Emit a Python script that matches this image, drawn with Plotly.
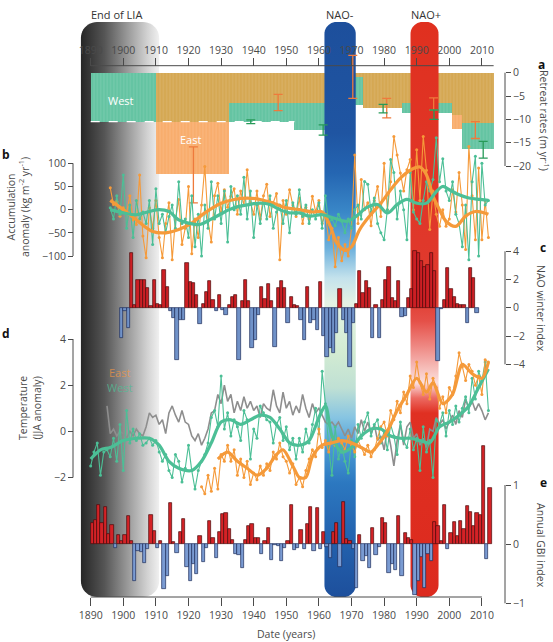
import numpy as np
import plotly.graph_objects as go

W, H = 553, 642

# ------------------------------------------------------------------ data
# Panel a: glacier retreat rates (m per year) by survey period
east_start = [1910.0, 1932.5, 1966.8, 1973.6, 1985.5, 2000.7, 2003.9]
east_end   = [1932.5, 1966.8, 1973.6, 1985.5, 2000.7, 2003.9, 2013.6]
east_rate  = [-21.8, -6.4, -0.9, -7.6, -6.6, -12.1, -10.8]
west_start = [1890.0, 1952.5, 1966.8, 1973.6, 1985.5, 2000.7, 2003.9]
west_end   = [1952.5, 1966.8, 1973.6, 1985.5, 2000.7, 2003.9, 2013.6]
west_rate  = [-10.5, -12.3, -7.0, -7.6, -8.7, -9.1, -16.4]
east_err_year = [1921.5, 1947.5, 1970.4, 1980.8, 1995.2, 2008.0]
east_err_val  = [-21.9, -6.4, -0.9, -7.6, -6.7, -12.3]
east_err      = [6.0, 1.75, 4.6, 2.1, 1.3, 1.8]
west_err_year = [1939.1, 1961.3, 1979.7, 1995.3, 2010.4]
west_err_val  = [-10.5, -12.3, -7.7, -9.0, -16.5]
west_err      = [0.4, 1.1, 0.9, 1.0, 1.8]
west_dash_years = [1890.0, 1952.5]
west_dash_val = -10.5

# Panel b: accumulation anomaly (kg m-2 yr-1), 1896-2012
acc_start = 1896
acc_east = [47, 11, 18, -14, 4, -8, 30, -22, -32, 75,
            -57, -104, 4, -40, 20, -60, -104, -30, 15, -108,
            -20, 22, -75, -40, 50, -95, -20, -60, 10, 93,
            -25, -70, 30, 57, -5, 43, 5, 29, 45, -10,
            40, 10, 86, 15, -10, 40, -20, 30, 55, -15,
            15, 35, -108, 20, -10, 43, 10, -15, 25, -30,
            5, -20, 29, -5, 20, -30, -10, -65, -40, -123,
            -60, -110, -75, -100, -40, 118, -30, 65, 0, 15,
            -35, 20, 50, -15, 100, 0, 60, 158, 118, 79,
            40, 86, 108, 0, 129, 20, 158, 85, -43, 40,
            -10, -36, 0, -36, -20, 43, -5, 80, 10, -86,
            136, 30, -65, 90, -65, 20, -60]
acc_west = [4, -20, 30, -10, 75, -40, 10, -60, 20, -20,
            -5, -30, 20, -75, 45, -30, -10, -50, -15, 10,
            -40, 60, -30, -20, -60, 30, -80, -10, -100, 10,
            -40, 60, -20, 30, -30, 40, -70, 50, 0, 30,
            -10, 70, -20, 40, -60, 10, -30, 20, -20, 30,
            -40, -5, 10, -30, 20, -50, 15, -10, 43, -15,
            10, -30, 0, -20, 15, -40, 30, -30, -20, -35,
            -10, -25, -50, -20, -40, 0, 10, -20, 61, 55,
            -5, 25, -30, -50, -65, 0, 108, 80, -20, 40,
            0, -65, 80, -5, -20, -30, 20, 60, 40, 65,
            155, 60, 110, 40, 20, 60, -10, -30, -80, 10,
            -108, 60, 115, -100, 100, 10, 20]
acc_east_s_year = [1896, 1900, 1904, 1909, 1913, 1917, 1921, 1925, 1930, 1934, 1938, 1942,
                   1946, 1950, 1954, 1958, 1961, 1963.5, 1965.5, 1968, 1970, 1972.5, 1975.5,
                   1979, 1982, 1985, 1988, 1991, 1993, 1995, 1997, 1999, 2002, 2005, 2008, 2012]
acc_east_s = [20, 0, -22, -47, -50, -43, -29, -7, 14, 22, 25, 22,
              14, 4, 0, -5, -5, -36, -72, -88, -80, -43, -14,
              14, 43, 68, 85, 92, 75, 29, 0, -25, -36, -14, -4, -10]
acc_west_s_year = [1896, 1900, 1904, 1908, 1911, 1914, 1917, 1920, 1923.5, 1926.5, 1929.5,
                   1932.5, 1935.5, 1938.5, 1942, 1945, 1948, 1951, 1954, 1957, 1961, 1964.5,
                   1968.5, 1971.5, 1974.5, 1978, 1981, 1984, 1987, 1990, 1993, 1996, 1998,
                   2000, 2003, 2006, 2009.5, 2012]
acc_west_s = [0, -7, -11, -4, 0, -4, -22, -29, -32, -22, -11,
              0, 7, 11, 14, 11, 0, -7, -7, -14, -11, -18,
              -25, -14, 4, 11, -7, 11, 22, 14, 14, 39, 50,
              43, 32, 25, 22, 20]

# Panel c: NAO winter index, 1899-2008
nao_start = 1899
nao = [-2.15, -0.2, -1.45, 3.9, 0.2, 2.0, 2.0, 2.0, 1.4, 0.1,
       2.0, 0.3, 0.2, 2.7, 1.5, -0.25, -0.7, -3.7, -0.85, -0.85,
       3.2, 1.8, 1.75, 0.9, -1.15, 0.3, 1.1, 1.9, 0.55, -0.25,
       0.9, -0.15, -0.5, 0.2, 0.8, 0.9, -3.7, 0.45, 2.0, 0.45,
       -2.85, -2.3, -0.5, 1.5, 0.6, 1.7, 0.45, -2.8, 1.4, 1.9,
       1.4, -1.1, 0.8, 0.2, 0.15, -0.85, -2.3, 1.5, -1.1, -0.85,
       -1.55, 1.8, -2.0, -3.45, -2.85, -3.2, -1.8, 1.3, -0.85, -1.8,
       -4.2, -1.1, 0.3, 2.6, 1.05, 1.9, 1.4, -2.15, 0.2, -2.15,
       0.55, 2.0, 2.9, 0.7, 0.5, 1.9, -0.65, -0.55, 0.7, 1.3,
       4.0, 3.9, 3.3, 2.9, 3.0, 3.9, 2.6, -3.8, -0.1, 0.55,
       2.8, 1.3, 0.75, 0.3, 0.2, 0.2, -1.1, 2.8, 2.1, -0.4]

# Panel d: summer (JJA) temperature anomaly
temp_west_start = 1890
temp_west = [-1.5, -0.9, -0.5, -1.9, -0.9, -0.8, -1.1, -0.3, -1.3, 0.3,
             -1.7, 0.9, -0.5, 0.1, -0.4, -0.1, -0.6, -0.5, -0.3, -0.6,
             -0.4, -0.9, -1.3, -1.0, -1.7, -2.0, -1.0, -1.3, -2.2, -1.6,
             -0.6, -1.7, -2.5, -1.7, -1.3, -1.0, -0.5, 0.6, 0.9, 0.2,
             2.4, 0.1, 0.8, -0.2, 0.5, 0.2, -0.4, 0.9, 0.5, -1.2,
             0.1, -0.3, 1.1, 0.8, 0.5, 0.4, -0.5, 0.3, 0.6, -0.4,
             0.2, -0.8, -0.3, -1.2, -0.3, -0.9, 0.1, -0.5, 0.3, 1.0,
             -0.1, 2.6, 1.2, -0.7, -1.9, 0.2, -1.2, -0.6, -1.3, -1.8,
             -0.4, -1.1, 0.3, -0.3, 0.4, 0.8, -0.2, 0.3, 0.5, -0.5,
             0.0, -0.8, 0.3, -0.2, -1.0, 0.4, -0.4, -0.7, 0.1, -0.8,
             -0.3, -1.7, 0.2, -0.9, -0.4, -2.0, 0.5, 0.3, 0.8, -0.2,
             0.9, 0.3, 1.1, 0.4, 1.0, 1.5, 0.8, 2.3, 1.4, 2.6,
             2.2, 3.0, 0.9]
temp_east_start = 1924
temp_east = [-2.4, -2.7, -1.9, -2.6, -1.6, -2.5, -1.0, -1.3, -0.6, -1.3,
             -0.8, -1.9, -1.2, -2.0, -1.3, -2.3, -1.8, -2.1, -1.5, -1.9,
             -1.4, -1.7, -0.9, -1.2, -0.5, -1.1, -1.3, -1.8, -1.4, -2.3,
             -2.0, -2.4, -1.7, -1.2, -0.8, -1.1, 0.1, -0.7, -0.4, -0.9,
             -0.2, -0.6, -0.3, -0.5, -0.8, -0.2, -0.6, -0.9, -0.4, -0.7,
             -1.0, -0.6, -1.1, -0.8, -0.3, 0.2, 0.4, -0.2, 0.9, 0.5,
             1.3, 0.8, 1.7, 1.2, 2.4, 1.9, 3.0, 2.1, 1.6, 2.5,
             1.4, 2.3, 1.9, 1.0, 1.5, 0.8, 1.9, 1.6, 2.4, 3.4,
             2.8, 2.2, 2.9, 2.6, 2.0, 2.4, 1.6, 3.1, 3.0]
temp_gray_start = 1895
temp_gray = [1.1, -0.1, 0.1, -0.2, 0.0, -0.1, -0.3, 0.0, -0.2, 0.1,
             -0.1, -0.2, 0.2, 0.8, 0.6, 0.7, 0.3, 0.5, -0.1, 0.8,
             1.1, 0.7, 0.4, 0.9, 0.4, 0.3, -0.2, -0.4, -0.1, -0.6,
             -0.3, 0.1, 0.8, 0.9, 1.6, 1.2, 2.0, 1.3, 1.6, 0.8,
             1.3, 0.9, 1.5, 1.0, 1.3, 0.9, 1.1, 0.6, 1.2, 1.0,
             0.9, 1.8, 1.1, 0.8, 1.7, 1.0, 1.3, 0.7, 1.1, 0.8,
             1.6, 1.0, 0.6, 1.2, 0.8, 1.0, 0.7, 0.4, 0.3, 0.4,
             0.2, 0.4, 0.1, -0.2, 0.1, -0.3, 0.2, -0.1, 0.5, 0.0,
             0.4, -0.1, 0.3, -0.4, -0.2, -0.8, 0.1, -0.6, -1.5, -0.4,
             0.3, -0.6, 0.2, 0.4, -0.3, -0.1, -0.6, -0.3, -0.7, 0.1,
             0.0, 0.6, 0.3, 0.5, 0.1, 0.4, 0.7, 0.3, 0.9, 0.6,
             1.4, 1.0, 1.3, 0.9, 1.2, 0.9, 0.5, 0.8]
temp_west_s_year = [1890, 1893, 1896, 1900, 1904, 1908, 1911, 1914, 1917, 1921, 1924, 1927,
                    1930, 1933, 1936, 1939, 1942, 1945, 1948, 1951, 1954, 1957, 1960, 1962,
                    1964, 1967, 1970, 1973, 1976, 1979, 1982, 1985, 1988, 1991, 1994, 1997,
                    2000, 2003, 2006, 2009, 2012]
temp_west_s = [-1.2, -0.8, -0.7, -0.4, -0.3, -0.3, -0.6, -1.3, -1.6, -1.7, -1.3, -0.5,
               0.4, 0.5, 0.3, 0.5, 0.7, 0.6, 0.1, -0.5, -0.6, -0.4, 0.6, 1.1,
               -0.2, -0.9, -0.7, -0.2, 0.1, 0.1, -0.2, -0.3, -0.3, -0.4, -0.5, 0.2,
               0.4, 0.7, 1.1, 1.9, 2.7]
temp_east_s_year = [1929, 1932, 1935, 1938, 1941, 1944, 1947, 1949, 1952, 1954, 1956, 1958,
                    1961, 1964, 1967, 1970, 1973, 1976, 1978, 1981, 1984, 1987, 1990, 1993,
                    1995, 1998, 2001, 2004, 2007, 2010, 2012]
temp_east_s = [-1.2, -0.9, -1.3, -1.6, -1.9, -1.6, -1.0, -0.8, -1.5, -2.0, -2.0, -1.1,
               -0.6, -0.5, -0.4, -0.5, -0.7, -0.9, -0.6, 0.0, 0.9, 1.6, 2.3, 1.7,
               2.1, 1.2, 1.6, 2.9, 2.5, 2.3, 3.0]

# Panel e: annual Greenland Blocking Index, 1890-2012
gbi_start = 1890
gbi = [0.35, 0.41, 0.66, 0.35, 0.62, 0.17, 0.33, -0.07, 0.16, 0.06,
       0.16, 0.47, 0.06, -0.62, -0.11, -0.14, -0.32, -0.08, 0.5, 0.23,
       -0.06, 0.06, -0.76, -0.54, 0.69, 0.03, -0.15, 0.2, 0.42, -0.39,
       -0.62, -0.34, -0.51, 0.13, -0.31, -0.06, 0.39, 0.11, -0.23, 0.2,
       0.51, 0.52, 0.25, 0.07, -0.17, -0.18, -0.41, 0.07, 0.3, 0.34,
       0.11, 0.1, -0.17, 0.05, 0.28, -0.26, -0.01, -0.03, -0.28, -0.06,
       0.05, 0.66, -0.1, -0.06, 0.24, -0.08, 0.34, 0.62, -0.11, 0.61,
       -0.08, 0.2, -0.04, -0.23, 0.21, 0.35, -0.39, 0.71, 0.08, 0.05,
       -0.08, -0.74, 0.15, -0.28, -0.2, -0.41, 0.28, -0.18, -0.05, 0.44,
       0.35, -0.49, -0.34, -0.43, 0.47, -0.54, 0.19, 0.1, 0.07, -0.86,
       -0.62, -0.21, -0.74, -0.17, -0.29, 0.38, 0.3, 0.06, 0.66, -0.08,
       0.19, 0.37, 0.13, 0.39, 0.26, 0.64, 0.54, 0.3, 0.52, 0.5,
       1.66, -0.25, 0.95]

# Highlighted periods
band_label = ["End of LIA", "NAO-", "NAO+"]
band_from = [1887.0, 1961.7, 1988.1]
band_to = [1911.0, 1971.3, 1996.7]

x_ticks = list(range(1890, 2011, 10))

# ------------------------------------------------------------------ geometry
X0_PX, PPY = 90.7, 3.26           # pixel of 1890, pixels per year
x_rng = [1890 - X0_PX / PPY, 1890 + (W - X0_PX) / PPY]


def yrange(v1, p1, v2, p2):
    k = (p2 - p1) / (v1 - v2)
    return [v1 - (H - p1) / k, v1 + p1 / k]


rng_a = yrange(0, 72.7, -20, 166.0)
rng_b = yrange(100, 163.3, -100, 256.0)
rng_c = yrange(4, 251.3, -4, 364.3)
rng_d = yrange(4, 339.0, -2, 477.5)
rng_e = yrange(1, 485.0, -1, 603.3)

LEFT_AX = 73.0 / W
RIGHT_AX = 505.0 / W
BAND_TOP = 1 - 22 / H
BAND_BOT = 1 - 597 / H

FONT = "Open Sans"
TXT = "#4a4a4a"

fig = go.Figure()


def rounded_rect(x0, x1, y0, y1, r):
    rx, ry = r / PPY, r / H
    xs, ys = [], []
    corners = [(x1 - rx, y1 - ry, 0, 90), (x0 + rx, y1 - ry, 90, 180),
               (x0 + rx, y0 + ry, 180, 270), (x1 - rx, y0 + ry, 270, 360)]
    for cx, cy, a0, a1 in corners:
        for a in np.linspace(np.radians(a0), np.radians(a1), 12):
            xs.append(cx + rx * np.cos(a))
            ys.append(cy + ry * np.sin(a))
    xs.append(xs[0]); ys.append(ys[0])
    return xs, ys


GSHIFT = 33


def ypos(py):
    return min(1.0, max(0.0, (597 - (py + GSHIFT)) / 575.0))


# LIA band (bottom layer)
xs, ys = rounded_rect(band_from[0], band_to[0], BAND_BOT, BAND_TOP, 16)
fig.add_trace(go.Scatter(
    x=xs, y=ys, mode="none", fill="toself", yaxis="y", hoverinfo="skip",
    fillgradient=dict(type="horizontal", start=band_from[0], stop=band_to[0],
                      colorscale=[[0, "#262626"], [0.3, "#555555"], [0.6, "#9a9a9a"],
                                  [0.85, "#d2d2d2"], [1, "#f0f0f0"]])))
# invisible trace so the top date axis is drawn
fig.add_trace(go.Scatter(x=[1950], y=[0.5], xaxis="x2", yaxis="y", mode="markers",
                         marker=dict(opacity=0), hoverinfo="skip"))

# Panel a bars
def centers(s, e):
    return [(a + b) / 2 for a, b in zip(s, e)], [b - a for a, b in zip(s, e)]


def step_value(starts, ends, vals, t):
    for s, e, v in zip(starts, ends, vals):
        if s <= t < e:
            return v
    return None


stripe = dict(shape="|", fgcolor="white", fgopacity=0.3, size=3.3, solidity=0.12)
ex, ew = centers(east_start, east_end)
wx, ww = centers(west_start, west_end)
fig.add_trace(go.Bar(x=ex, y=east_rate, width=ew, yaxis="y2",
                     marker=dict(color="#f8ad6d", line_width=0, pattern=stripe)))
fig.add_trace(go.Bar(x=wx, y=west_rate, width=ww, yaxis="y2",
                     marker=dict(color="#64c4a2", line_width=0, pattern=stripe)))
bounds = sorted(set(east_start + east_end + west_start + west_end))
ov_x, ov_w, ov_y = [], [], []
for a, b in zip(bounds[:-1], bounds[1:]):
    m = (a + b) / 2
    e = step_value(east_start, east_end, east_rate, m)
    w = step_value(west_start, west_end, west_rate, m)
    if e is not None and w is not None:
        ov_x.append(m); ov_w.append(b - a); ov_y.append(max(e, w))
fig.add_trace(go.Bar(x=ov_x, y=ov_y, width=ov_w, yaxis="y2",
                     marker=dict(color="#d5a853", line_width=0, pattern=stripe)))
fig.add_trace(go.Scatter(x=west_dash_years, y=[west_dash_val] * 2, yaxis="y2", mode="lines",
                         line=dict(color="white", width=1.2, dash="dash")))

# NAO bands (above panel a bars)
blue_scale = [[0, "#1d4f9c"], [ypos(500), "#2464b0"], [ypos(450), "#2c78c0"],
              [ypos(415), "#4a9ad4"], [ypos(385), "#86c4e2"], [ypos(355), "#bfe0d4"],
              [ypos(320), "#d2ebd2"], [ypos(270), "#e4f2e4"], [ypos(245), "#c4e2ec"],
              [ypos(215), "#6cb0dc"], [ypos(180), "#3a88c8"], [ypos(140), "#2566b2"],
              [ypos(100), "#1f55a2"], [1, "#1d4f9c"]]
red_scale = [[0, "#dc2a1e"], [ypos(380), "#e03022"], [ypos(365), "#ec6a62"],
             [ypos(350), "#fbe0de"], [ypos(338), "#f7c4c0"], [ypos(312), "#ee8580"],
             [ypos(288), "#e55048"], [ypos(262), "#e03a2e"], [1, "#e0301f"]]
for i, sc in ((1, blue_scale), (2, red_scale)):
    xs, ys = rounded_rect(band_from[i], band_to[i], BAND_BOT, BAND_TOP, 12)
    fig.add_trace(go.Scatter(
        x=xs, y=ys, mode="none", fill="toself", yaxis="y3", hoverinfo="skip",
        fillgradient=dict(type="vertical", start=BAND_BOT, stop=BAND_TOP, colorscale=sc)))

# Panel a error bars
fig.add_trace(go.Scatter(x=east_err_year, y=east_err_val, yaxis="y4", mode="markers",
                         marker=dict(size=1, color="rgba(0,0,0,0)"),
                         error_y=dict(type="data", array=east_err, color="#ee7a3c",
                                      thickness=1.3, width=4.5)))
fig.add_trace(go.Scatter(x=west_err_year, y=west_err_val, yaxis="y4", mode="markers",
                         marker=dict(size=1, color="rgba(0,0,0,0)"),
                         error_y=dict(type="data", array=west_err, color="#279a58",
                                      thickness=1.3, width=4.5)))

# Panel b
acc_years = list(range(acc_start, acc_start + len(acc_east)))
ORANGE, GREEN = "#f59a3a", "#4cbf96"
fig.add_trace(go.Scatter(x=acc_years, y=acc_east, yaxis="y5", mode="lines+markers",
                         line=dict(color=ORANGE, width=1.1), marker=dict(size=3, color=ORANGE)))
fig.add_trace(go.Scatter(x=acc_years[:len(acc_west)], y=acc_west, yaxis="y5", mode="lines+markers",
                         line=dict(color=GREEN, width=1.1), marker=dict(size=3, color=GREEN)))
fig.add_trace(go.Scatter(x=acc_east_s_year, y=acc_east_s, yaxis="y5", mode="lines",
                         line=dict(color=ORANGE, width=3.2, shape="spline", smoothing=1.0)))
fig.add_trace(go.Scatter(x=acc_west_s_year, y=acc_west_s, yaxis="y5", mode="lines",
                         line=dict(color=GREEN, width=3.2, shape="spline", smoothing=1.0)))

# Panel c
nao_x = [nao_start + i + 0.5 for i in range(len(nao))]
fig.add_trace(go.Bar(x=nao_x, y=nao, width=1.0, yaxis="y6",
                     marker=dict(color=["#cc1f24" if v >= 0 else "#7092c8" for v in nao],
                                 line=dict(color=["#4a0a0a" if v >= 0 else "#1c2d5a" for v in nao],
                                           width=0.7))))

# Panel d
gy = list(range(temp_gray_start, temp_gray_start + len(temp_gray)))
wy = list(range(temp_west_start, temp_west_start + len(temp_west)))
ey = list(range(temp_east_start, temp_east_start + len(temp_east)))
fig.add_trace(go.Scatter(x=gy, y=temp_gray, yaxis="y7", mode="lines",
                         line=dict(color="#8e8e8e", width=1.6)))
fig.add_trace(go.Scatter(x=wy, y=temp_west, yaxis="y7", mode="lines+markers",
                         line=dict(color=GREEN, width=1.1), marker=dict(size=3, color=GREEN)))
fig.add_trace(go.Scatter(x=ey, y=temp_east, yaxis="y7", mode="lines+markers",
                         line=dict(color=ORANGE, width=1.1), marker=dict(size=3, color=ORANGE)))
fig.add_trace(go.Scatter(x=temp_west_s_year, y=temp_west_s, yaxis="y7", mode="lines",
                         line=dict(color=GREEN, width=3.2, shape="spline", smoothing=0.8)))
fig.add_trace(go.Scatter(x=temp_east_s_year, y=temp_east_s, yaxis="y7", mode="lines",
                         line=dict(color=ORANGE, width=3.2, shape="spline", smoothing=0.8)))

# Panel e
gbi_x = [gbi_start + i + 0.5 for i in range(len(gbi))]
fig.add_trace(go.Bar(x=gbi_x, y=gbi, width=1.0, yaxis="y8",
                     marker=dict(color=["#d42226" if v >= 0 else "#7a9bd2" for v in gbi],
                                 line=dict(color=["#4a0a0a" if v >= 0 else "#1c2d5a" for v in gbi],
                                           width=0.7))))

# ------------------------------------------------------------------ axes
tickfont = dict(family=FONT, size=10.5, color=TXT)


def vis_y(rng, side, pos, tv):
    return dict(range=rng, overlaying="y", anchor="free", position=pos, side=side,
                tickvals=tv, ticks="outside", ticklen=5, tickwidth=1, tickcolor=TXT,
                tickfont=tickfont, showgrid=False, zeroline=False, showline=False,
                fixedrange=True)


hidden = dict(visible=False, showgrid=False, zeroline=False, fixedrange=True)

fig.update_layout(
    width=W, height=H, margin=dict(l=0, r=0, t=0, b=0), autosize=False,
    paper_bgcolor="white", plot_bgcolor="rgba(0,0,0,0)",
    showlegend=False, barmode="overlay", bargap=0,
    font=dict(family=FONT, color=TXT),
    xaxis=dict(range=x_rng, domain=[0, 1], anchor="free", position=1 - 597 / H,
               tickvals=x_ticks, ticks="outside", ticklen=8, tickwidth=1, tickcolor=TXT,
               tickfont=tickfont, showgrid=False, zeroline=False, showline=False),
    xaxis2=dict(range=x_rng, domain=[0, 1], overlaying="x", side="top", anchor="free",
                position=1 - 65.7 / H, tickvals=x_ticks, ticks="outside", ticklen=8,
                tickwidth=1, tickcolor=TXT, tickfont=tickfont, showgrid=False,
                zeroline=False, showline=False),
    yaxis=dict(range=[0, 1], domain=[0, 1], **hidden),
    yaxis2=vis_y(rng_a, "right", RIGHT_AX, [0, -5, -10, -15, -20]),
    yaxis3=dict(range=[0, 1], overlaying="y", **hidden),
    yaxis4=dict(range=rng_a, overlaying="y", **hidden),
    yaxis5=vis_y(rng_b, "left", LEFT_AX, [100, 50, 0, -50, -100]),
    yaxis6=vis_y(rng_c, "right", RIGHT_AX, [4, 2, 0, -2, -4]),
    yaxis7=vis_y(rng_d, "left", LEFT_AX, [4, 2, 0, -2]),
    yaxis8=vis_y(rng_e, "right", RIGHT_AX, [1, 0, -1]),
)

# axis lines
line = dict(color=TXT, width=1)
shapes = [
    dict(type="line", xref="x", yref="paper", x0=1890, x1=2010, y0=1 - 597 / H, y1=1 - 597 / H, line=line),
    dict(type="line", xref="x", yref="paper", x0=1890, x1=2013.6, y0=1 - 65.7 / H, y1=1 - 65.7 / H, line=line),
    dict(type="line", xref="paper", yref="y2", x0=RIGHT_AX, x1=RIGHT_AX, y0=0, y1=-20, line=line),
    dict(type="line", xref="paper", yref="y5", x0=LEFT_AX, x1=LEFT_AX, y0=100, y1=-100, line=line),
    dict(type="line", xref="paper", yref="y6", x0=RIGHT_AX, x1=RIGHT_AX, y0=4, y1=-4, line=line),
    dict(type="line", xref="paper", yref="y7", x0=LEFT_AX, x1=LEFT_AX, y0=4, y1=-2, line=line),
    dict(type="line", xref="paper", yref="y8", x0=RIGHT_AX, x1=RIGHT_AX, y0=1, y1=-1, line=line),
]
fig.update_layout(shapes=shapes)


def ann(text, px, py, size=10.5, color=TXT, angle=0, bold=False, **kw):
    t = f"<b>{text}</b>" if bold else text
    fig.add_annotation(text=t, x=px / W, y=1 - py / H, xref="paper", yref="paper",
                       showarrow=False, textangle=angle, xanchor="center", yanchor="middle",
                       font=dict(family=FONT, size=size, color=color), **kw)


ann(band_label[0], 116, 15, size=11, color="#333")
ann(band_label[1], 340, 15, size=11, color="#333")
ann(band_label[2], 426, 15, size=11, color="#333")
for letter, px, py in (("a", 541, 65), ("b", 6, 155), ("c", 543, 247), ("d", 6, 334), ("e", 543, 482)):
    ann(letter, px, py, size=12, color="#111", bold=True)
ann("Accumulation<br>anomaly (kg m<sup>-2</sup> yr<sup>-1</sup>)", 18, 207, size=10.5, angle=-90)
ann("Temperature<br>(JJA anomaly)", 30, 408, size=10.5, angle=-90)
ann("Retreat rates (m yr<sup>-1</sup>)", 545, 120, size=10.5, angle=90)
ann("NAO winter index", 541, 308, size=10.5, angle=90)
ann("Annual GBI index", 541, 545, size=10.5, angle=90)
ann("Date (years)", 286, 634, size=10.5)

fig.add_annotation(text="West", x=1899.4, y=-5.9, xref="x", yref="y2", showarrow=False,
                   font=dict(family=FONT, size=11, color="white"))
fig.add_annotation(text="East", x=1920.6, y=-14.3, xref="x", yref="y2", showarrow=False,
                   font=dict(family=FONT, size=11, color="white"))
fig.add_annotation(text="East", x=1898.9, y=2.56, xref="x", yref="y7", showarrow=False,
                   font=dict(family=FONT, size=11, color="rgba(240,150,70,0.75)"))
fig.add_annotation(text="West", x=1898.9, y=1.9, xref="x", yref="y7", showarrow=False,
                   font=dict(family=FONT, size=11, color="rgba(80,190,150,0.75)"))

fig.write_html("out.html")
